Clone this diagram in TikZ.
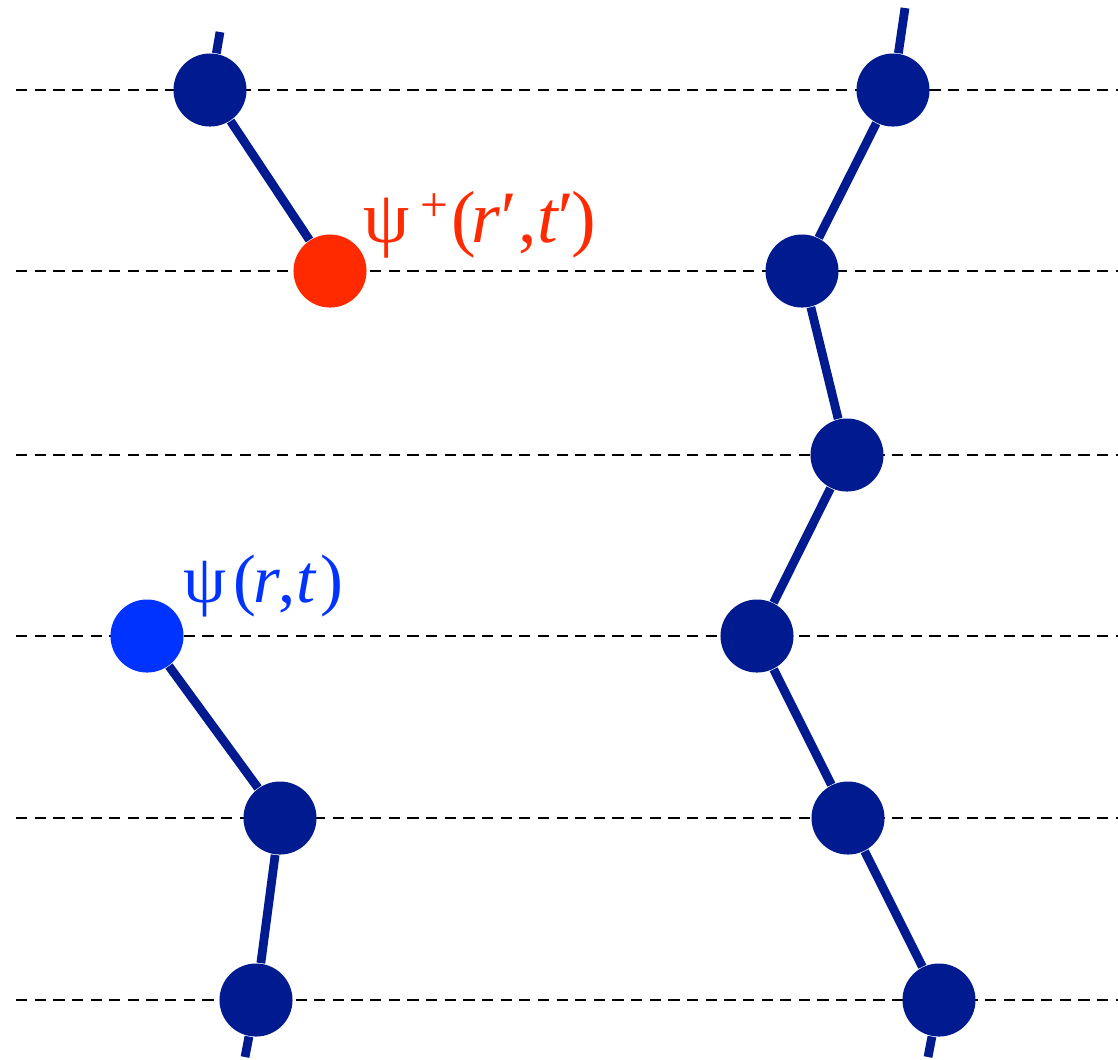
\documentclass[tikz,border=0pt]{standalone}
\usepackage{fontspec}
\setmainfont{Liberation Serif}
\definecolor{navy}{HTML}{001A8F}
\definecolor{ltblue}{HTML}{0033FF}
\definecolor{redd}{HTML}{FF2A00}
\newcommand\putc[2]{\makebox[0pt][l]{\hspace{#1}#2}}
\begin{document}
\begin{tikzpicture}[x=0.01cm,y=-0.01cm,
  site/.style={circle,fill=navy,inner sep=0pt,minimum size=0.73cm},
  link/.style={draw=navy,line width=2.5pt},
  level/.style={line width=0.8pt,dash pattern=on 3.2pt off 2.1pt},
  lab/.style={inner sep=0pt,anchor=base west}]
\useasboundingbox (0,0) rectangle (1118,1059);
% dashed levels
\foreach \y in {90,271,455,636,818,1000}
  \draw[level] (16,\y) -- (1118,\y);
% left chain
\coordinate (lt) at (220,32);
\node[site] (l1) at (210,90) {};
\node[site,fill=redd] (l2) at (330,271) {};
\node[site,fill=ltblue] (l3) at (147,636) {};
\node[site] (l4) at (280,818) {};
\node[site] (l5) at (256,1000) {};
\coordinate (lb) at (245,1057);
% right chain
\coordinate (rt) at (905,8);
\node[site] (r1) at (893,90) {};
\node[site] (r2) at (802,271) {};
\node[site] (r3) at (847,455) {};
\node[site] (r4) at (757,636) {};
\node[site] (r5) at (848,818) {};
\node[site] (r6) at (939,1000) {};
\coordinate (rb) at (928,1057);
% links
\draw[link] (lt) -- (l1) -- (l2);
\draw[link] (l3) -- (l4) -- (l5) -- (lb);
\draw[link] (rt) -- (r1) -- (r2) -- (r3) -- (r4) -- (r5) -- (r6) -- (rb);
% labels
\node[lab,text=redd,font=\fontsize{21}{24}\selectfont] (psip) at (361,242)
  {\putc{0cm}{ψ}\putc{0.57cm}{\raisebox{0.62ex}{\fontsize{14}{14}\selectfont +}}%
   \putc{0.88cm}{(}\putc{1.08cm}{\textit{r}}\putc{1.33cm}{\textit{′}}%
   \putc{1.55cm}{,}\putc{1.74cm}{\textit{t}}\putc{1.90cm}{\textit{′}}\putc{2.08cm}{)}};
\node[lab,text=ltblue,font=\fontsize{19.5}{22}\selectfont] (psi) at (181,602)
  {\putc{0cm}{ψ}\putc{0.50cm}{(}\putc{0.70cm}{\textit{r}}\putc{0.95cm}{,}%
   \putc{1.13cm}{\textit{t}}\putc{1.37cm}{)}};
\end{tikzpicture}
\end{document}
